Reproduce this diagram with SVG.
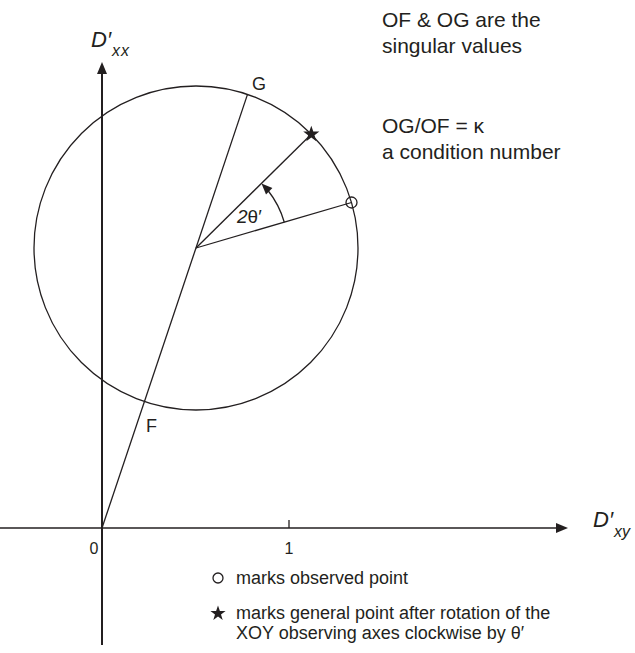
<svg xmlns="http://www.w3.org/2000/svg" width="635" height="653" viewBox="0 0 635 653">
<style>
.ln{stroke:#231f20;stroke-width:1.3;fill:none}
.ax{stroke:#231f20;stroke-width:2;fill:none}
.hd{fill:#231f20;stroke:none}
text{font-family:"Liberation Sans",Arial,sans-serif;fill:#231f20}
.it{font-style:italic}
</style>
<rect width="635" height="653" fill="#fff"/>
<g id="connectors">
<line class="ax" x1="102" y1="645" x2="102" y2="72"/>
<polygon class="hd" points="102,62 97,74 107,74"/>
<line class="ln" x1="0" y1="528" x2="558" y2="528"/>
<polygon class="hd" points="568,528 556,523 556,533"/>
<line class="ln" x1="289" y1="520" x2="289" y2="528"/>
<line class="ln" x1="102" y1="528" x2="247.5" y2="94.4"/>
<line class="ln" x1="196" y1="248" x2="351.5" y2="202.5"/>
<line class="ln" x1="196" y1="248" x2="311.3" y2="134.2"/>
<path class="ln" d="M284.3,222.2 A92,92 0 0 0 268,190.5"/>
<polygon class="hd" points="261.5,183.4 272.4,188 266,194.4"/>
</g>
<g id="circle"><circle class="ln" cx="196" cy="248" r="162"/></g>
<g id="observed"><circle class="ln" cx="351.5" cy="202.5" r="5.5"/></g>
<g id="star"><polygon class="hd" points="311.3,125.7 313.3,131.6 319.4,131.6 314.5,135.3 316.3,141.2 311.3,137.6 306.3,141.2 308.1,135.3 303.2,131.6 309.3,131.6"/></g>
<g id="labels">
<text x="252" y="90" font-size="18">G</text>
<text x="146" y="432" font-size="18">F</text>
<text x="237" y="223" font-size="19"><tspan class="it">2</tspan>θ′</text>
<text x="91" y="47" font-size="22" class="it">D′</text>
<text x="112" y="56" font-size="16" class="it" letter-spacing="1">xx</text>
<text x="593" y="527" font-size="22" class="it">D′</text>
<text x="614" y="537" font-size="16" class="it">xy</text>
<text x="94" y="554" font-size="16" text-anchor="middle">0</text>
<text x="289" y="554" font-size="16" text-anchor="middle">1</text>
</g>
<g id="notes">
<text x="382" y="27" font-size="21">OF &amp; OG are the</text>
<text x="382" y="53" font-size="21">singular values</text>
<text x="382" y="133" font-size="21">OG/OF = κ</text>
<text x="382" y="159" font-size="21">a condition number</text>
</g>
<g id="legend">
<circle class="ln" cx="218" cy="578" r="5"/>
<text x="236" y="584" font-size="18">marks observed point</text>
<polygon class="hd" points="218,605.5 219.9,611 225.6,611 221,614.4 222.7,619.9 218,616.5 213.3,619.9 215,614.4 210.4,611 216.1,611"/>
<text x="236" y="619" font-size="18">marks general point after rotation of the</text>
<text x="236" y="639" font-size="18">XOY observing axes clockwise by θ′</text>
</g>
</svg>
